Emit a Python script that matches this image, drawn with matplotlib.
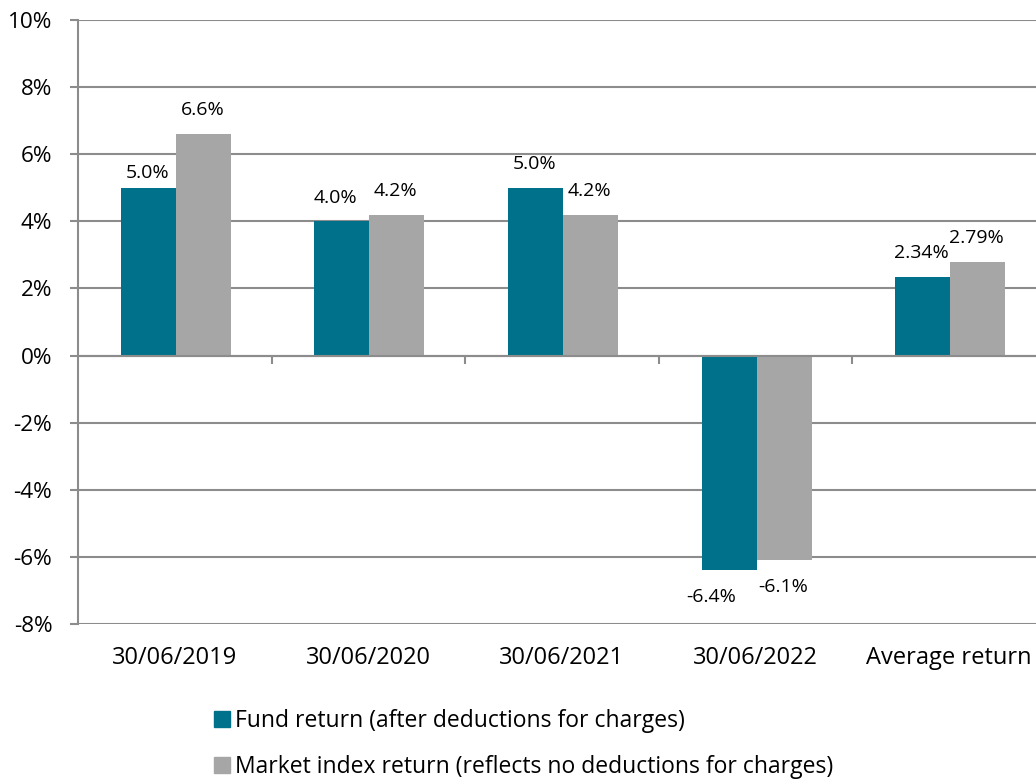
import matplotlib
matplotlib.use("Agg")
import matplotlib.pyplot as plt
from matplotlib.patches import Patch
import matplotlib.transforms as mtransforms

categories = ["30/06/2019", "30/06/2020", "30/06/2021", "30/06/2022", "Average return"]
fund = [5.0, 4.0, 5.0, -6.4, 2.34]
index = [6.6, 4.2, 4.2, -6.1, 2.79]
fund_labels = ["5.0%", "4.0%", "5.0%", "-6.4%", "2.34%"]
index_labels = ["6.6%", "4.2%", "4.2%", "-6.1%", "2.79%"]
series_names = ["Fund return (after deductions for charges)",
                "Market index return (reflects no deductions for charges)"]
yticks = [-8, -6, -4, -2, 0, 2, 4, 6, 8, 10]

TEAL = "#00718A"
GRAY = "#A6A6A6"
GRID = "#8C8C8C"

plt.rcParams["font.family"] = ["Open Sans", "DejaVu Sans"]

W, H = 1036, 779
fig = plt.figure(figsize=(W / 100, H / 100), dpi=100)
left, top, bottom = 78, 20, 624
cat_w = 193.6
ax = fig.add_axes([left / W, 1 - bottom / H, 5 * cat_w / W, (bottom - top) / H])

x = list(range(len(categories)))
bw = 0.284
ax.bar([i - bw / 2 + 0.005 for i in x], fund, width=bw, color=TEAL, zorder=3)
ax.bar([i + bw / 2 + 0.005 for i in x], index, width=bw, color=GRAY, zorder=3)

ax.set_xlim(-0.5, len(categories) - 0.5)
ax.set_ylim(-8, 10)
ax.set_yticks(yticks)
ax.set_yticklabels([f"{v}%" for v in yticks], fontsize=16.2)
ax.yaxis.grid(True, color=GRID, linewidth=1.5, zorder=0)
ax.tick_params(axis="y", direction="out", length=5.5, width=1.5, color=GRID, pad=13)

for s in ["top", "right"]:
    ax.spines[s].set_visible(False)
ax.spines["left"].set_color(GRID)
ax.spines["left"].set_linewidth(1.5)
ax.spines["bottom"].set_position(("data", 0))
ax.spines["bottom"].set_color(GRID)
ax.spines["bottom"].set_linewidth(1.5)
ax.spines["bottom"].set_zorder(4)
ax.set_xticks([i + 0.5 for i in x[:-1]])
ax.set_xticklabels([])
ax.tick_params(axis="x", direction="out", length=6, width=1.5, color=GRID)

trans = mtransforms.blended_transform_factory(ax.transData, ax.transAxes)
for i, c in enumerate(categories):
    ax.text(i, -0.057, c, transform=trans, ha="center", va="center", fontsize=17)

fund_offsets = [(0, 11), (-4, 17), (0, 17), (-12, -19), (0, 17)]
index_offsets = [(0, 17), (0, 17), (0, 17), (0, -19), (0, 17)]
for i in x:
    ax.annotate(fund_labels[i], (i - bw / 2, fund[i]), xytext=fund_offsets[i],
                textcoords="offset points", ha="center", va="center", fontsize=14)
    ax.annotate(index_labels[i], (i + bw / 2, index[i]), xytext=index_offsets[i],
                textcoords="offset points", ha="center", va="center", fontsize=14)

handles = [Patch(color=TEAL), Patch(color=GRAY)]
fig.legend(handles, series_names, loc="upper left", bbox_to_anchor=(214 / W, 1 - 709 / H),
           frameon=False, fontsize=16.5, handlelength=0.7, handleheight=0.7,
           handletextpad=0.2, labelspacing=0.95, borderpad=0, borderaxespad=0)

fig.savefig("out.png", dpi=100)
